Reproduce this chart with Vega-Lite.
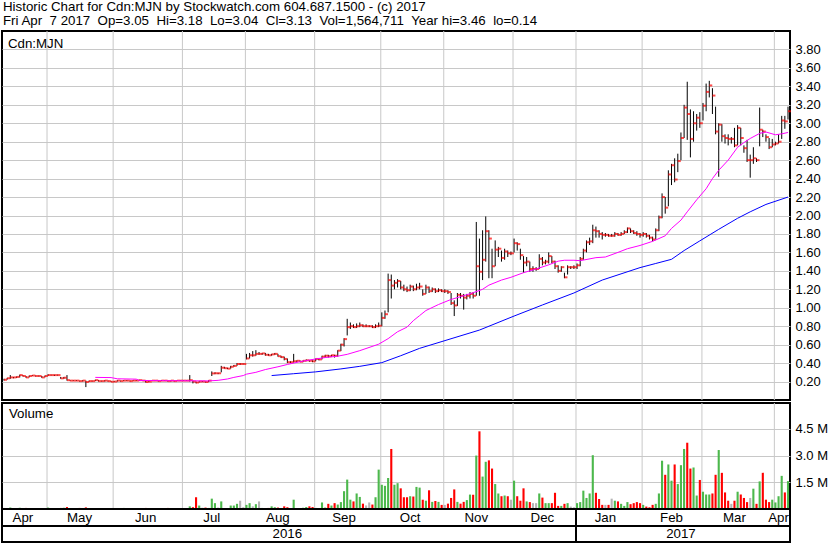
{
"$schema": "https://vega.github.io/schema/vega-lite/v6.json",
"background": "white",
"padding": {"left": 1, "top": 0, "right": 0, "bottom": 0},
"config": {
  "font": "Liberation Sans",
  "view": {"stroke": "black", "strokeWidth": 2},
  "axis": {"labelFont": "Liberation Sans", "labelFontSize": 13, "labelColor": "black", "gridColor": "#c8c8c8", "gridOpacity": 1, "domain": false, "ticks": false, "title": null, "labelOverlap": false, "labelSeparation": 0},
  "title": {"font": "Liberation Sans", "fontWeight": "normal", "fontSize": 13.3, "color": "black"}
},
"title": {"text": ["Historic Chart for Cdn:MJN by Stockwatch.com 604.687.1500 - (c) 2017", "Fri Apr\u00a0\u00a07 2017\u00a0\u00a0Op=3.05\u00a0\u00a0Hi=3.18\u00a0\u00a0Lo=3.04\u00a0\u00a0Cl=3.13\u00a0\u00a0Vol=1,564,711\u00a0\u00a0Year hi=3.46\u00a0\u00a0lo=0.14"], "anchor": "start", "frame": "group", "lineHeight": 13.5, "offset": 2.5, "dx": 1},
"datasets": {
  "months": [
    {"m": "Apr", "mid": "2016-04-20"},
    {"m": "May", "mid": "2016-05-16", "start": "2016-05-02"},
    {"m": "Jun", "mid": "2016-06-15", "start": "2016-06-01"},
    {"m": "Jul", "mid": "2016-07-15", "start": "2016-07-04"},
    {"m": "Aug", "mid": "2016-08-16", "start": "2016-08-02"},
    {"m": "Sep", "mid": "2016-09-15", "start": "2016-09-01"},
    {"m": "Oct", "mid": "2016-10-17", "start": "2016-10-03"},
    {"m": "Nov", "mid": "2016-11-15", "start": "2016-11-01"},
    {"m": "Dec", "mid": "2016-12-14", "start": "2016-12-01"},
    {"m": "Jan", "mid": "2017-01-16", "start": "2017-01-03"},
    {"m": "Feb", "mid": "2017-02-14", "start": "2017-02-01"},
    {"m": "Mar", "mid": "2017-03-15", "start": "2017-03-01"},
    {"m": "Apr", "mid": "2017-04-04", "start": "2017-04-03"}
  ],
  "years": [
    {"y": "2016", "mid": "2016-08-19"},
    {"y": "2017", "mid": "2017-02-17", "start": "2017-01-03"}
  ],
  "labels": [
    {"t": "Cdn:MJN", "d": "2016-04-12", "p": 3.82}
  ],
  "vlabels": [
    {"t": "Volume", "d": "2016-04-12", "q": 5100000}
  ]
},
"data": {"values": [
{"d":"2016-04-12","h":0.23,"l":0.21,"c":0.22,"v":60000},
{"d":"2016-04-13","h":0.24,"l":0.22,"c":0.235,"v":50000},
{"d":"2016-04-14","h":0.27,"l":0.23,"c":0.245,"v":80000},
{"d":"2016-04-15","h":0.25,"l":0.235,"c":0.245,"v":40000},
{"d":"2016-04-18","h":0.255,"l":0.24,"c":0.25,"v":40000},
{"d":"2016-04-19","h":0.275,"l":0.245,"c":0.27,"v":70000},
{"d":"2016-04-20","h":0.27,"l":0.255,"c":0.26,"v":50000},
{"d":"2016-04-21","h":0.26,"l":0.24,"c":0.245,"v":60000},
{"d":"2016-04-22","h":0.265,"l":0.245,"c":0.26,"v":40000},
{"d":"2016-04-25","h":0.27,"l":0.26,"c":0.265,"v":50000},
{"d":"2016-04-26","h":0.265,"l":0.255,"c":0.26,"v":40000},
{"d":"2016-04-27","h":0.265,"l":0.255,"c":0.26,"v":30000},
{"d":"2016-04-28","h":0.26,"l":0.24,"c":0.245,"v":50000},
{"d":"2016-04-29","h":0.265,"l":0.245,"c":0.26,"v":40000},
{"d":"2016-05-02","h":0.28,"l":0.26,"c":0.27,"v":80000},
{"d":"2016-05-03","h":0.275,"l":0.265,"c":0.27,"v":50000},
{"d":"2016-05-04","h":0.275,"l":0.26,"c":0.27,"v":40000},
{"d":"2016-05-05","h":0.275,"l":0.265,"c":0.27,"v":30000},
{"d":"2016-05-06","h":0.25,"l":0.23,"c":0.235,"v":60000},
{"d":"2016-05-09","h":0.25,"l":0.23,"c":0.24,"v":70000},
{"d":"2016-05-10","h":0.27,"l":0.21,"c":0.215,"v":110000},
{"d":"2016-05-11","h":0.215,"l":0.205,"c":0.21,"v":50000},
{"d":"2016-05-12","h":0.215,"l":0.205,"c":0.21,"v":40000},
{"d":"2016-05-13","h":0.215,"l":0.205,"c":0.21,"v":30000},
{"d":"2016-05-16","h":0.21,"l":0.2,"c":0.205,"v":60000},
{"d":"2016-05-17","h":0.215,"l":0.2,"c":0.21,"v":50000},
{"d":"2016-05-18","h":0.21,"l":0.14,"c":0.195,"v":90000},
{"d":"2016-05-19","h":0.21,"l":0.195,"c":0.205,"v":50000},
{"d":"2016-05-20","h":0.21,"l":0.2,"c":0.205,"v":30000},
{"d":"2016-05-24","h":0.22,"l":0.205,"c":0.215,"v":40000,"m1":0.245},
{"d":"2016-05-25","h":0.215,"l":0.2,"c":0.205,"v":50000},
{"d":"2016-05-26","h":0.21,"l":0.2,"c":0.205,"v":30000},
{"d":"2016-05-27","h":0.215,"l":0.2,"c":0.21,"v":40000},
{"d":"2016-05-30","h":0.21,"l":0.2,"c":0.205,"v":50000},
{"d":"2016-05-31","h":0.205,"l":0.195,"c":0.198,"v":40000,"m1":0.243},
{"d":"2016-06-01","h":0.205,"l":0.195,"c":0.2,"v":30000},
{"d":"2016-06-02","h":0.215,"l":0.2,"c":0.21,"v":50000,"m1":0.23},
{"d":"2016-06-03","h":0.21,"l":0.2,"c":0.205,"v":40000},
{"d":"2016-06-06","h":0.215,"l":0.205,"c":0.21,"v":60000},
{"d":"2016-06-07","h":0.215,"l":0.205,"c":0.21,"v":30000},
{"d":"2016-06-08","h":0.21,"l":0.2,"c":0.205,"v":40000},
{"d":"2016-06-09","h":0.215,"l":0.205,"c":0.21,"v":50000},
{"d":"2016-06-10","h":0.215,"l":0.205,"c":0.21,"v":30000,"m1":0.226},
{"d":"2016-06-13","h":0.22,"l":0.21,"c":0.215,"v":50000,"m1":0.212},
{"d":"2016-06-14","h":0.215,"l":0.205,"c":0.21,"v":40000},
{"d":"2016-06-15","h":0.21,"l":0.19,"c":0.195,"v":60000},
{"d":"2016-06-16","h":0.205,"l":0.195,"c":0.2,"v":50000},
{"d":"2016-06-17","h":0.215,"l":0.205,"c":0.21,"v":40000},
{"d":"2016-06-20","h":0.215,"l":0.205,"c":0.21,"v":30000},
{"d":"2016-06-21","h":0.21,"l":0.2,"c":0.205,"v":30000},
{"d":"2016-06-22","h":0.215,"l":0.205,"c":0.21,"v":50000,"m1":0.21},
{"d":"2016-06-23","h":0.215,"l":0.205,"c":0.21,"v":30000},
{"d":"2016-06-24","h":0.21,"l":0.2,"c":0.205,"v":60000},
{"d":"2016-06-27","h":0.215,"l":0.2,"c":0.21,"v":40000},
{"d":"2016-06-28","h":0.21,"l":0.2,"c":0.205,"v":30000},
{"d":"2016-06-29","h":0.215,"l":0.205,"c":0.21,"v":50000},
{"d":"2016-06-30","h":0.215,"l":0.205,"c":0.21,"v":40000},
{"d":"2016-07-04","h":0.215,"l":0.205,"c":0.21,"v":30000},
{"d":"2016-07-05","h":0.215,"l":0.205,"c":0.21,"v":40000},
{"d":"2016-07-06","h":0.27,"l":0.2,"c":0.215,"v":150000},
{"d":"2016-07-07","h":0.21,"l":0.18,"c":0.2,"v":100000},
{"d":"2016-07-08","h":0.2,"l":0.18,"c":0.19,"v":660000},
{"d":"2016-07-11","h":0.205,"l":0.19,"c":0.2,"v":194000},
{"d":"2016-07-12","h":0.205,"l":0.195,"c":0.2,"v":70000},
{"d":"2016-07-13","h":0.2,"l":0.19,"c":0.195,"v":80000},
{"d":"2016-07-14","h":0.215,"l":0.195,"c":0.21,"v":60000,"m1":0.207},
{"d":"2016-07-15","h":0.31,"l":0.26,"c":0.288,"v":581000},
{"d":"2016-07-18","h":0.3,"l":0.28,"c":0.29,"v":329000},
{"d":"2016-07-19","h":0.295,"l":0.28,"c":0.29,"v":80000,"m1":0.213},
{"d":"2016-07-20","h":0.37,"l":0.3,"c":0.35,"v":426000},
{"d":"2016-07-21","h":0.36,"l":0.34,"c":0.345,"v":50000},
{"d":"2016-07-22","h":0.35,"l":0.335,"c":0.34,"v":40000,"m1":0.228},
{"d":"2016-07-25","h":0.37,"l":0.34,"c":0.36,"v":194000},
{"d":"2016-07-26","h":0.38,"l":0.36,"c":0.37,"v":194000,"m1":0.245},
{"d":"2016-07-27","h":0.4,"l":0.37,"c":0.39,"v":290000},
{"d":"2016-07-28","h":0.4,"l":0.38,"c":0.39,"v":465000},
{"d":"2016-07-29","h":0.395,"l":0.385,"c":0.39,"v":100000,"m1":0.265},
{"d":"2016-08-02","h":0.5,"l":0.44,"c":0.45,"v":232000,"m1":0.28},
{"d":"2016-08-03","h":0.51,"l":0.45,"c":0.485,"v":329000},
{"d":"2016-08-04","h":0.53,"l":0.47,"c":0.485,"v":150000},
{"d":"2016-08-05","h":0.54,"l":0.48,"c":0.5,"v":271000,"m1":0.3},
{"d":"2016-08-08","h":0.52,"l":0.49,"c":0.5,"v":426000},
{"d":"2016-08-09","h":0.51,"l":0.49,"c":0.505,"v":60000},
{"d":"2016-08-10","h":0.51,"l":0.48,"c":0.49,"v":50000,"m1":0.33},
{"d":"2016-08-11","h":0.5,"l":0.48,"c":0.485,"v":60000},
{"d":"2016-08-12","h":0.5,"l":0.48,"c":0.495,"v":150000,"m2":0.265},
{"d":"2016-08-15","h":0.51,"l":0.49,"c":0.5,"v":100000},
{"d":"2016-08-16","h":0.5,"l":0.47,"c":0.475,"v":80000,"m1":0.36},
{"d":"2016-08-17","h":0.48,"l":0.455,"c":0.465,"v":50000},
{"d":"2016-08-18","h":0.47,"l":0.43,"c":0.445,"v":150000},
{"d":"2016-08-19","h":0.45,"l":0.4,"c":0.41,"v":100000,"m1":0.385},
{"d":"2016-08-22","h":0.42,"l":0.4,"c":0.41,"v":40000},
{"d":"2016-08-23","h":0.5,"l":0.405,"c":0.42,"v":523000,"m2":0.285},
{"d":"2016-08-24","h":0.43,"l":0.41,"c":0.425,"v":50000},
{"d":"2016-08-25","h":0.43,"l":0.41,"c":0.415,"v":50000,"m1":0.415},
{"d":"2016-08-26","h":0.43,"l":0.41,"c":0.425,"v":70000},
{"d":"2016-08-29","h":0.44,"l":0.42,"c":0.43,"v":110000},
{"d":"2016-08-30","h":0.43,"l":0.415,"c":0.425,"v":150000},
{"d":"2016-08-31","h":0.43,"l":0.41,"c":0.42,"v":110000},
{"d":"2016-09-01","h":0.45,"l":0.42,"c":0.445,"v":60000,"m1":0.445,"m2":0.305},
{"d":"2016-09-02","h":0.45,"l":0.43,"c":0.44,"v":50000},
{"d":"2016-09-06","h":0.48,"l":0.44,"c":0.47,"v":368000},
{"d":"2016-09-07","h":0.49,"l":0.46,"c":0.48,"v":80000,"m1":0.46},
{"d":"2016-09-08","h":0.49,"l":0.46,"c":0.475,"v":290000},
{"d":"2016-09-09","h":0.49,"l":0.47,"c":0.485,"v":194000},
{"d":"2016-09-12","h":0.49,"l":0.46,"c":0.48,"v":329000},
{"d":"2016-09-13","h":0.54,"l":0.47,"c":0.535,"v":250000,"m1":0.475},
{"d":"2016-09-14","h":0.61,"l":0.53,"c":0.6,"v":387000,"m2":0.337},
{"d":"2016-09-15","h":0.67,"l":0.58,"c":0.66,"v":1000000},
{"d":"2016-09-16","h":0.88,"l":0.7,"c":0.79,"v":1650000,"m1":0.495},
{"d":"2016-09-19","h":0.84,"l":0.77,"c":0.8,"v":523000},
{"d":"2016-09-20","h":0.82,"l":0.78,"c":0.79,"v":426000},
{"d":"2016-09-21","h":0.83,"l":0.78,"c":0.8,"v":872000},
{"d":"2016-09-22","h":0.84,"l":0.79,"c":0.81,"v":678000,"m1":0.535,"m2":0.365},
{"d":"2016-09-23","h":0.82,"l":0.79,"c":0.8,"v":300000},
{"d":"2016-09-26","h":0.82,"l":0.79,"c":0.8,"v":200000},
{"d":"2016-09-27","h":0.81,"l":0.79,"c":0.8,"v":368000},
{"d":"2016-09-28","h":0.81,"l":0.78,"c":0.79,"v":250000},
{"d":"2016-09-29","h":0.82,"l":0.78,"c":0.8,"v":660000},
{"d":"2016-09-30","h":0.84,"l":0.79,"c":0.805,"v":2210000,"m1":0.605},
{"d":"2016-10-03","h":0.95,"l":0.8,"c":0.89,"v":1360000,"m2":0.405},
{"d":"2016-10-04","h":0.97,"l":0.88,"c":0.93,"v":1300000},
{"d":"2016-10-05","h":1.37,"l":0.95,"c":1.3,"v":1740000,"m1":0.665},
{"d":"2016-10-06","h":1.36,"l":1.1,"c":1.24,"v":3370000},
{"d":"2016-10-07","h":1.3,"l":1.2,"c":1.27,"v":1360000},
{"d":"2016-10-11","h":1.31,"l":1.22,"c":1.29,"v":1450000,"m1":0.74},
{"d":"2016-10-12","h":1.29,"l":1.2,"c":1.22,"v":1160000,"m2":0.48},
{"d":"2016-10-13","h":1.25,"l":1.18,"c":1.2,"v":660000},
{"d":"2016-10-14","h":1.23,"l":1.17,"c":1.19,"v":660000,"m1":0.79},
{"d":"2016-10-17","h":1.25,"l":1.18,"c":1.23,"v":717000},
{"d":"2016-10-18","h":1.24,"l":1.18,"c":1.2,"v":700000,"m1":0.86},
{"d":"2016-10-19","h":1.26,"l":1.19,"c":1.22,"v":1240000},
{"d":"2016-10-20","h":1.27,"l":1.2,"c":1.23,"v":1200000,"m1":0.915,"m2":0.56},
{"d":"2016-10-21","h":1.2,"l":1.13,"c":1.15,"v":520000},
{"d":"2016-10-24","h":1.25,"l":1.15,"c":1.22,"v":465000,"m1":0.97},
{"d":"2016-10-25","h":1.23,"l":1.16,"c":1.18,"v":1050000},
{"d":"2016-10-26","h":1.22,"l":1.17,"c":1.2,"v":400000},
{"d":"2016-10-27","h":1.21,"l":1.16,"c":1.18,"v":450000},
{"d":"2016-10-28","h":1.21,"l":1.17,"c":1.19,"v":400000,"m1":1.035},
{"d":"2016-10-31","h":1.2,"l":1.17,"c":1.18,"v":230000},
{"d":"2016-11-01","h":1.2,"l":1.16,"c":1.18,"v":230000},
{"d":"2016-11-02","h":1.19,"l":1.15,"c":1.17,"v":300000},
{"d":"2016-11-03","h":1.16,"l":1.03,"c":1.05,"v":620000,"m1":1.09},
{"d":"2016-11-04","h":1.08,"l":0.91,"c":1.025,"v":1100000},
{"d":"2016-11-07","h":1.16,"l":1.02,"c":1.14,"v":400000},
{"d":"2016-11-08","h":1.16,"l":1.1,"c":1.13,"v":300000,"m1":1.12},
{"d":"2016-11-09","h":1.15,"l":0.98,"c":1.11,"v":400000},
{"d":"2016-11-10","h":1.15,"l":1.09,"c":1.13,"v":500000},
{"d":"2016-11-11","h":1.17,"l":1.1,"c":1.15,"v":810000},
{"d":"2016-11-14","h":1.17,"l":1.1,"c":1.13,"v":800000,"m1":1.163},
{"d":"2016-11-15","h":1.93,"l":1.13,"c":1.45,"v":3000000},
{"d":"2016-11-16","h":1.75,"l":1.13,"c":1.39,"v":4360000,"m2":0.758},
{"d":"2016-11-17","h":1.84,"l":1.3,"c":1.52,"v":1820000,"m1":1.2},
{"d":"2016-11-18","h":1.99,"l":1.5,"c":1.83,"v":2650000},
{"d":"2016-11-21","h":1.84,"l":1.32,"c":1.75,"v":2730000,"m1":1.245},
{"d":"2016-11-22","h":1.64,"l":1.32,"c":1.45,"v":2270000},
{"d":"2016-11-23","h":1.73,"l":1.45,"c":1.63,"v":1400000},
{"d":"2016-11-24","h":1.66,"l":1.55,"c":1.64,"v":870000},
{"d":"2016-11-25","h":1.62,"l":1.5,"c":1.54,"v":717000,"m1":1.3},
{"d":"2016-11-28","h":1.64,"l":1.52,"c":1.61,"v":756000},
{"d":"2016-11-29","h":1.62,"l":1.55,"c":1.59,"v":717000},
{"d":"2016-11-30","h":1.61,"l":1.57,"c":1.59,"v":523000,"m1":1.33},
{"d":"2016-12-01","h":1.75,"l":1.6,"c":1.7,"v":1590000,"m2":0.91},
{"d":"2016-12-02","h":1.71,"l":1.62,"c":1.69,"v":717000},
{"d":"2016-12-05","h":1.64,"l":1.52,"c":1.57,"v":465000},
{"d":"2016-12-06","h":1.56,"l":1.38,"c":1.49,"v":1160000,"m1":1.38},
{"d":"2016-12-07","h":1.55,"l":1.45,"c":1.5,"v":426000},
{"d":"2016-12-08","h":1.5,"l":1.39,"c":1.42,"v":388000},
{"d":"2016-12-09","h":1.45,"l":1.39,"c":1.42,"v":329000},
{"d":"2016-12-12","h":1.44,"l":1.4,"c":1.42,"v":329000,"m1":1.42},
{"d":"2016-12-13","h":1.58,"l":1.42,"c":1.53,"v":872000},
{"d":"2016-12-14","h":1.55,"l":1.46,"c":1.49,"v":640000,"m2":1.03},
{"d":"2016-12-15","h":1.52,"l":1.47,"c":1.5,"v":329000},
{"d":"2016-12-16","h":1.6,"l":1.48,"c":1.56,"v":329000,"m1":1.465},
{"d":"2016-12-19","h":1.56,"l":1.48,"c":1.5,"v":329000},
{"d":"2016-12-20","h":1.51,"l":1.42,"c":1.45,"v":910000},
{"d":"2016-12-21","h":1.46,"l":1.38,"c":1.4,"v":174000,"m1":1.505},
{"d":"2016-12-22","h":1.45,"l":1.39,"c":1.44,"v":174000},
{"d":"2016-12-23","h":1.38,"l":1.32,"c":1.33,"v":290000,"m1":1.515},
{"d":"2016-12-28","h":1.46,"l":1.36,"c":1.44,"v":329000},
{"d":"2016-12-29","h":1.45,"l":1.42,"c":1.44,"v":136000},
{"d":"2016-12-30","h":1.46,"l":1.42,"c":1.44,"v":97000,"m1":1.515,"m2":1.16},
{"d":"2017-01-03","h":1.48,"l":1.42,"c":1.46,"v":329000},
{"d":"2017-01-04","h":1.55,"l":1.45,"c":1.53,"v":388000,"m1":1.51},
{"d":"2017-01-05","h":1.64,"l":1.52,"c":1.62,"v":1030000},
{"d":"2017-01-06","h":1.73,"l":1.6,"c":1.71,"v":620000},
{"d":"2017-01-09","h":1.76,"l":1.68,"c":1.72,"v":872000},
{"d":"2017-01-10","h":1.9,"l":1.7,"c":1.84,"v":3020000},
{"d":"2017-01-11","h":1.88,"l":1.76,"c":1.83,"v":910000,"m1":1.543},
{"d":"2017-01-12","h":1.84,"l":1.76,"c":1.8,"v":560000},
{"d":"2017-01-13","h":1.82,"l":1.74,"c":1.79,"v":232000,"m2":1.3},
{"d":"2017-01-16","h":1.81,"l":1.77,"c":1.79,"v":232000,"m1":1.55},
{"d":"2017-01-17","h":1.8,"l":1.77,"c":1.78,"v":232000},
{"d":"2017-01-18","h":1.8,"l":1.77,"c":1.78,"v":580000},
{"d":"2017-01-19","h":1.82,"l":1.77,"c":1.8,"v":465000},
{"d":"2017-01-20","h":1.81,"l":1.78,"c":1.79,"v":426000,"m1":1.6},
{"d":"2017-01-23","h":1.82,"l":1.78,"c":1.8,"v":290000},
{"d":"2017-01-24","h":1.84,"l":1.8,"c":1.82,"v":174000},
{"d":"2017-01-25","h":1.87,"l":1.81,"c":1.86,"v":388000,"m1":1.64},
{"d":"2017-01-26","h":1.86,"l":1.81,"c":1.83,"v":271000},
{"d":"2017-01-27","h":1.84,"l":1.8,"c":1.81,"v":329000},
{"d":"2017-01-30","h":1.83,"l":1.78,"c":1.8,"v":388000},
{"d":"2017-01-31","h":1.81,"l":1.76,"c":1.79,"v":329000,"m1":1.675,"m2":1.435},
{"d":"2017-02-01","h":1.82,"l":1.77,"c":1.8,"v":232000},
{"d":"2017-02-02","h":1.81,"l":1.76,"c":1.78,"v":136000},
{"d":"2017-02-03","h":1.79,"l":1.74,"c":1.76,"v":97000},
{"d":"2017-02-06","h":1.77,"l":1.72,"c":1.74,"v":232000,"m1":1.72},
{"d":"2017-02-07","h":1.86,"l":1.74,"c":1.84,"v":290000,"m2":1.48},
{"d":"2017-02-08","h":2.0,"l":1.83,"c":1.98,"v":872000},
{"d":"2017-02-09","h":2.24,"l":1.97,"c":2.2,"v":2710000},
{"d":"2017-02-10","h":2.2,"l":2.02,"c":2.085,"v":1920000,"m1":1.78},
{"d":"2017-02-13","h":2.49,"l":2.1,"c":2.445,"v":2500000},
{"d":"2017-02-14","h":2.56,"l":2.33,"c":2.545,"v":1590000,"m1":1.86,"m2":1.525},
{"d":"2017-02-15","h":2.62,"l":2.36,"c":2.39,"v":2500000},
{"d":"2017-02-16","h":2.67,"l":2.47,"c":2.59,"v":1400000},
{"d":"2017-02-17","h":2.9,"l":2.6,"c":2.84,"v":2460000,"m1":1.95},
{"d":"2017-02-21","h":3.2,"l":2.84,"c":3.17,"v":3370000,"m2":1.62},
{"d":"2017-02-22","h":3.45,"l":2.82,"c":3.1,"v":3720000,"m1":2.04},
{"d":"2017-02-23","h":3.15,"l":2.63,"c":2.83,"v":2270000},
{"d":"2017-02-24","h":3.13,"l":2.8,"c":3.0,"v":2330000},
{"d":"2017-02-27","h":3.1,"l":2.92,"c":3.06,"v":756000,"m1":2.17},
{"d":"2017-02-28","h":3.12,"l":2.95,"c":3.0,"v":1630000,"m2":1.725},
{"d":"2017-03-01","h":3.22,"l":3.03,"c":3.19,"v":970000},
{"d":"2017-03-02","h":3.43,"l":3.13,"c":3.34,"v":814000,"m1":2.29},
{"d":"2017-03-03","h":3.46,"l":3.28,"c":3.41,"v":814000},
{"d":"2017-03-06","h":3.38,"l":3.1,"c":3.3,"v":872000,"m1":2.4},
{"d":"2017-03-07","h":3.18,"l":2.88,"c":2.91,"v":1920000},
{"d":"2017-03-08","h":3.0,"l":2.42,"c":2.985,"v":3310000,"m1":2.49,"m2":1.85},
{"d":"2017-03-09","h":2.99,"l":2.8,"c":2.86,"v":2030000},
{"d":"2017-03-10","h":2.88,"l":2.78,"c":2.84,"v":930000},
{"d":"2017-03-13","h":2.88,"l":2.76,"c":2.83,"v":465000,"m1":2.6},
{"d":"2017-03-14","h":2.85,"l":2.78,"c":2.83,"v":290000},
{"d":"2017-03-15","h":2.95,"l":2.74,"c":2.76,"v":465000},
{"d":"2017-03-16","h":2.98,"l":2.76,"c":2.95,"v":970000,"m1":2.74,"m2":1.97},
{"d":"2017-03-17","h":2.95,"l":2.76,"c":2.84,"v":814000},
{"d":"2017-03-20","h":2.76,"l":2.68,"c":2.73,"v":620000,"m1":2.79},
{"d":"2017-03-21","h":2.82,"l":2.58,"c":2.6,"v":388000},
{"d":"2017-03-22","h":2.66,"l":2.41,"c":2.6,"v":620000,"m1":2.835,"m2":2.04},
{"d":"2017-03-23","h":2.74,"l":2.56,"c":2.62,"v":1140000},
{"d":"2017-03-24","h":2.62,"l":2.58,"c":2.6,"v":290000},
{"d":"2017-03-27","h":3.17,"l":2.75,"c":2.93,"v":1550000,"m1":2.89},
{"d":"2017-03-28","h":2.93,"l":2.85,"c":2.91,"v":2030000},
{"d":"2017-03-29","h":2.88,"l":2.8,"c":2.85,"v":523000,"m1":2.905,"m2":2.12},
{"d":"2017-03-30","h":2.84,"l":2.72,"c":2.74,"v":388000},
{"d":"2017-03-31","h":2.83,"l":2.74,"c":2.77,"v":523000},
{"d":"2017-04-03","h":2.8,"l":2.76,"c":2.78,"v":368000,"m1":2.875},
{"d":"2017-04-04","h":2.88,"l":2.78,"c":2.8,"v":717000},
{"d":"2017-04-05","h":3.08,"l":2.83,"c":3.03,"v":1860000,"m1":2.885},
{"d":"2017-04-06","h":3.08,"l":2.94,"c":3.02,"v":930000},
{"d":"2017-04-07","h":3.18,"l":3.04,"c":3.13,"v":1564711,"m1":2.9,"m2":2.2}
]},
"spacing": 3,
"bounds": "flush",
"resolve": {"scale": {"x": "shared"}},
"vconcat": [
  {
    "width": 788, "height": 369,
    "layer": [
      {"data": {"name": "months"}, "transform": [{"filter": "isValid(datum.start)"}],
       "mark": {"type": "rule", "color": "#c8c8c8", "strokeWidth": 1},
       "encoding": {"x": {"field": "start", "type": "ordinal", "bandPosition": 0, "axis": null, "scale": {"type": "band", "paddingInner": 0.33, "paddingOuter": 0.3}}}},
      {"mark": {"type": "rule", "color": "black", "strokeWidth": 1},
       "encoding": {
         "x": {"field": "d", "type": "ordinal", "axis": null, "scale": {"type": "band", "paddingInner": 0.33, "paddingOuter": 0.3}},
         "y": {"field": "l", "type": "quantitative", "title": null, "scale": {"domain": [0, 4.0], "nice": false, "zero": false},
               "axis": {"orient": "right", "values": [0.2,0.4,0.6,0.8,1.0,1.2,1.4,1.6,1.8,2.0,2.2,2.4,2.6,2.8,3.0,3.2,3.4,3.6,3.8], "format": ".2f", "labelPadding": 5, "grid": true, "title": null, "labelOverlap": false, "labelSeparation": 0}},
         "y2": {"field": "h"}}},
      {"mark": {"type": "tick", "color": "#ff0000", "orient": "horizontal", "size": 3, "thickness": 2, "xOffset": 1.5},
       "encoding": {
         "x": {"field": "d", "type": "ordinal", "axis": null, "scale": {"type": "band", "paddingInner": 0.33, "paddingOuter": 0.3}},
         "y": {"field": "c", "type": "quantitative", "title": null,
               "axis": {"orient": "right", "values": [0.2,0.4,0.6,0.8,1.0,1.2,1.4,1.6,1.8,2.0,2.2,2.4,2.6,2.8,3.0,3.2,3.4,3.6,3.8], "format": ".2f", "labelPadding": 5, "grid": true, "title": null, "labelOverlap": false, "labelSeparation": 0}}}},
      {"transform": [{"filter": "isValid(datum.m1)"}],
       "mark": {"type": "line", "color": "#ff00ff", "strokeWidth": 1},
       "encoding": {
         "x": {"field": "d", "type": "ordinal", "axis": null, "scale": {"type": "band", "paddingInner": 0.33, "paddingOuter": 0.3}},
         "y": {"field": "m1", "type": "quantitative", "title": null,
               "axis": {"orient": "right", "values": [0.2,0.4,0.6,0.8,1.0,1.2,1.4,1.6,1.8,2.0,2.2,2.4,2.6,2.8,3.0,3.2,3.4,3.6,3.8], "format": ".2f", "labelPadding": 5, "grid": true, "title": null, "labelOverlap": false, "labelSeparation": 0}}}},
      {"transform": [{"filter": "isValid(datum.m2)"}],
       "mark": {"type": "line", "color": "#0000ff", "strokeWidth": 1},
       "encoding": {
         "x": {"field": "d", "type": "ordinal", "axis": null, "scale": {"type": "band", "paddingInner": 0.33, "paddingOuter": 0.3}},
         "y": {"field": "m2", "type": "quantitative", "title": null,
               "axis": {"orient": "right", "values": [0.2,0.4,0.6,0.8,1.0,1.2,1.4,1.6,1.8,2.0,2.2,2.4,2.6,2.8,3.0,3.2,3.4,3.6,3.8], "format": ".2f", "labelPadding": 5, "grid": true, "title": null, "labelOverlap": false, "labelSeparation": 0}}}},
      {"data": {"name": "labels"},
       "mark": {"type": "text", "align": "left", "baseline": "alphabetic", "dx": 5, "fontSize": 13.3, "color": "black"},
       "encoding": {
         "x": {"field": "d", "type": "ordinal", "bandPosition": 0, "axis": null, "scale": {"type": "band", "paddingInner": 0.33, "paddingOuter": 0.3}},
         "y": {"field": "p", "type": "quantitative", "title": null,
               "axis": {"orient": "right", "values": [0.2,0.4,0.6,0.8,1.0,1.2,1.4,1.6,1.8,2.0,2.2,2.4,2.6,2.8,3.0,3.2,3.4,3.6,3.8], "format": ".2f", "labelPadding": 5, "grid": true, "title": null, "labelOverlap": false, "labelSeparation": 0}},
         "text": {"field": "t"}}}
    ]
  },
  {
    "spacing": 0,
    "bounds": "flush",
    "resolve": {"scale": {"x": "shared"}},
    "vconcat": [
      {
        "width": 788, "height": 106,
        "layer": [
          {"data": {"name": "months"}, "transform": [{"filter": "isValid(datum.start)"}],
           "mark": {"type": "rule", "color": "#c8c8c8", "strokeWidth": 1},
           "encoding": {"x": {"field": "start", "type": "ordinal", "bandPosition": 0, "axis": null, "scale": {"type": "band", "paddingInner": 0.33, "paddingOuter": 0.3}}}},
          {"transform": [{"window": [{"op": "lag", "field": "c", "as": "pc"}], "sort": [{"field": "d"}]}],
           "mark": {"type": "bar"},
           "encoding": {
             "x": {"field": "d", "type": "ordinal", "axis": null, "scale": {"type": "band", "paddingInner": 0.33, "paddingOuter": 0.3}},
             "y": {"field": "v", "type": "quantitative", "title": null, "scale": {"domain": [0, 5950000], "nice": false},
                   "axis": {"orient": "right", "values": [1500000, 3000000, 4500000], "labelExpr": "format(datum.value / 1000000, '.1f') + ' M'", "labelPadding": 5, "grid": true, "title": null, "labelOverlap": false}},
             "color": {"condition": [
                 {"test": "isValid(datum.pc) && datum.c > datum.pc", "value": "#4cb84c"},
                 {"test": "isValid(datum.pc) && datum.c < datum.pc", "value": "#ff0000"}],
               "value": "#b4b4b4"}}},
          {"data": {"name": "vlabels"},
           "mark": {"type": "text", "align": "left", "baseline": "alphabetic", "dx": 6, "fontSize": 13.3, "color": "black"},
           "encoding": {
             "x": {"field": "d", "type": "ordinal", "bandPosition": 0, "axis": null, "scale": {"type": "band", "paddingInner": 0.33, "paddingOuter": 0.3}},
             "y": {"field": "q", "type": "quantitative", "title": null,
                   "axis": {"orient": "right", "values": [1500000, 3000000, 4500000], "labelExpr": "format(datum.value / 1000000, '.1f') + ' M'", "labelPadding": 5, "grid": true, "title": null, "labelOverlap": false}},
             "text": {"field": "t"}}}
        ]
      },
      {
        "width": 788, "height": 17,
        "layer": [
          {"data": {"name": "months"},
           "mark": {"type": "text", "fontSize": 13.3, "color": "black", "clip": true},
           "encoding": {
             "x": {"field": "mid", "type": "ordinal", "axis": null, "scale": {"type": "band", "paddingInner": 0.33, "paddingOuter": 0.3}},
             "text": {"field": "m"}}},
          {"data": {"name": "years"}, "transform": [{"filter": "isValid(datum.start)"}],
           "mark": {"type": "rule", "color": "black", "strokeWidth": 2},
           "encoding": {"x": {"field": "start", "type": "ordinal", "bandPosition": 0, "axis": null, "scale": {"type": "band", "paddingInner": 0.33, "paddingOuter": 0.3}}}}
        ]
      },
      {
        "width": 788, "height": 16,
        "layer": [
          {"data": {"name": "years"},
           "mark": {"type": "text", "fontSize": 13.3, "color": "black"},
           "encoding": {
             "x": {"field": "mid", "type": "ordinal", "axis": null, "scale": {"type": "band", "paddingInner": 0.33, "paddingOuter": 0.3}},
             "text": {"field": "y"}}},
          {"data": {"name": "years"}, "transform": [{"filter": "isValid(datum.start)"}],
           "mark": {"type": "rule", "color": "black", "strokeWidth": 2},
           "encoding": {"x": {"field": "start", "type": "ordinal", "bandPosition": 0, "axis": null, "scale": {"type": "band", "paddingInner": 0.33, "paddingOuter": 0.3}}}}
        ]
      }
    ]
  }
]
}
